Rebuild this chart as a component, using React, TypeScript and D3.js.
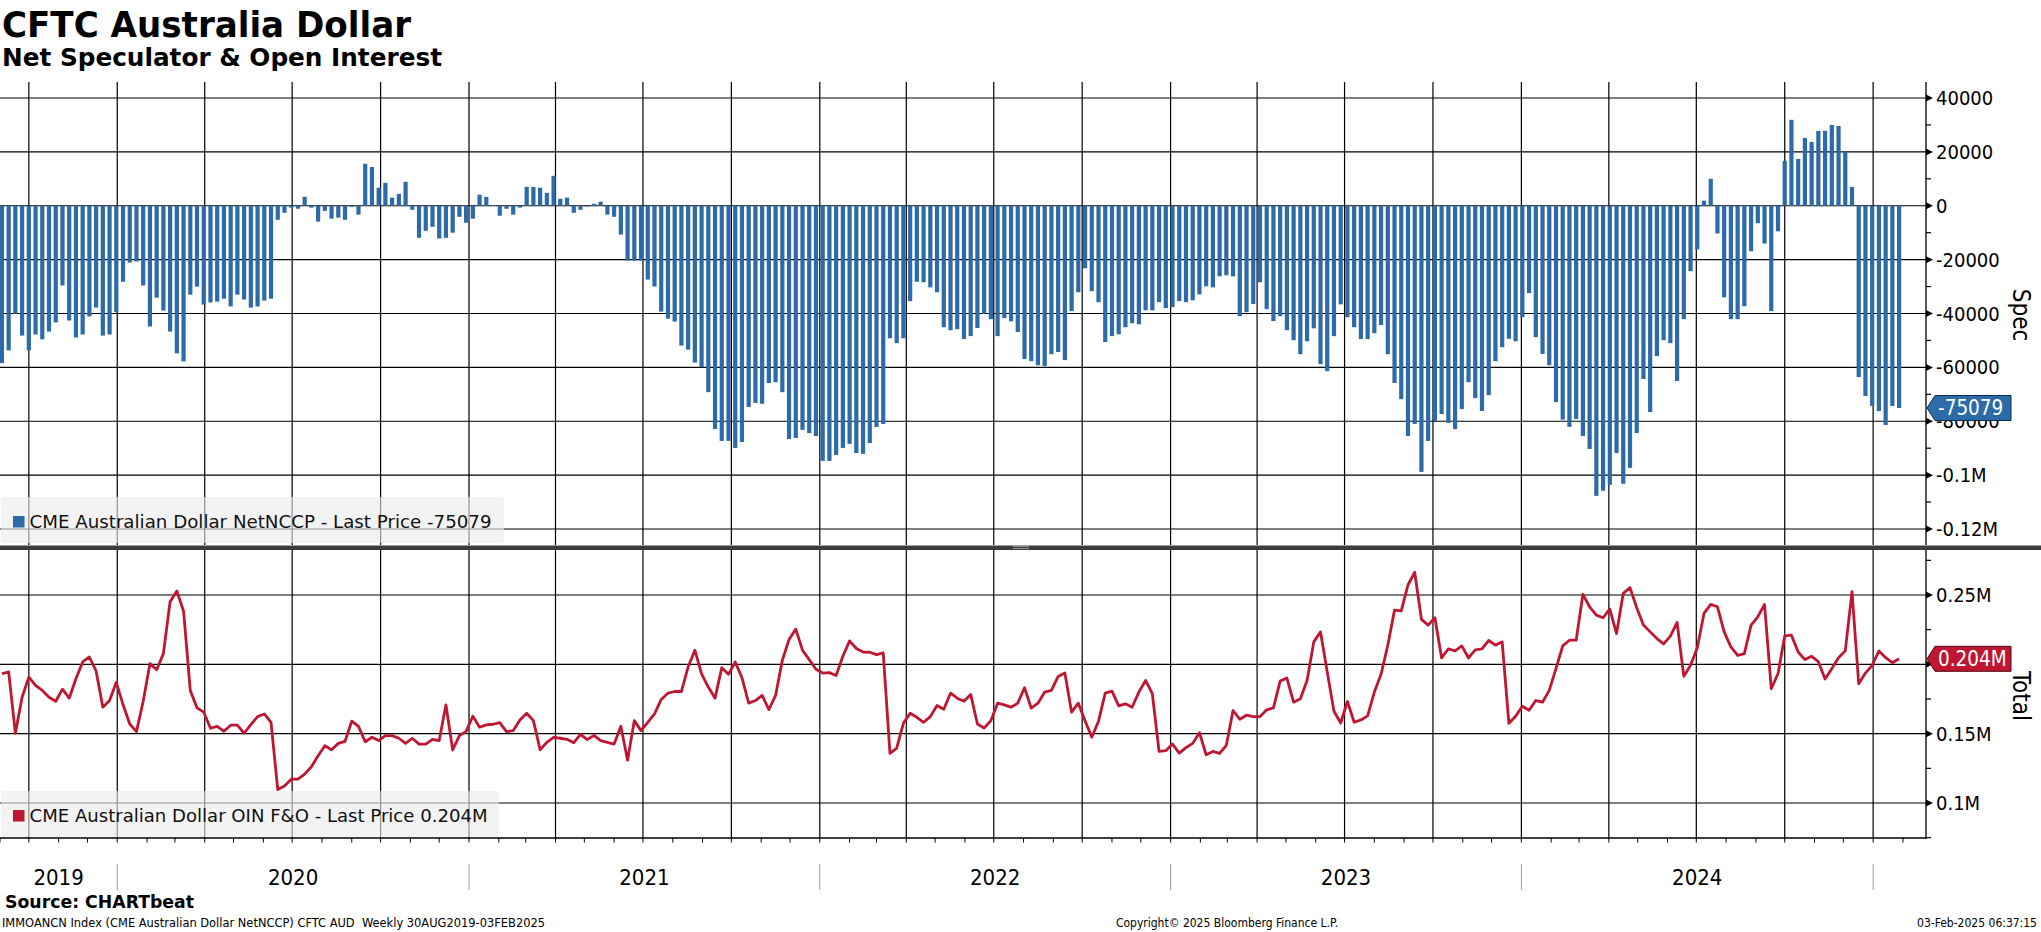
import { useEffect, useRef } from "react";
import * as d3 from "d3";

// weekly CFTC report dates (Tuesdays), 03-Sep-2019 .. 28-Jan-2025
const FIRST_DATE = new Date(2019, 8, 3);

// CME Australian Dollar NetNCCP (net speculator positions)
const netSpec = [
  -58400, -53700, -40100, -48200, -53700, -47800, -49600, -46700, -43300, -29600,
  -42600, -48900, -47800, -41100, -37800, -48200, -47800, -39500, -28200, -21100,
  -20700, -29600, -44800, -34100, -38900, -46700, -54800, -57800, -33000, -30000,
  -36700, -35900, -35600, -34500, -37400, -33000, -34800, -37800, -37400, -35200,
  -34500, -5200, -2600, -700, -1100, 3300, -700, -5900, -1900, -4800,
  -4400, -5200, -400, -3300, 15600, 14400, 6700, 8500, 3000, 4400,
  8900, -1500, -11900, -9300, -7800, -12200, -11900, -10000, -4100, -6300,
  -4800, 4100, 3300, 300, -3700, -1100, -3300, -700, 7000, 7000,
  6700, 4800, 11100, 2600, 3000, -2600, -1500, -300, 700, 1500,
  -3300, -4100, -10700, -20400, -20400, -20400, -27400, -30000, -39300, -41900,
  -43000, -51900, -53400, -58200,
  -59900, -69200, -82900, -87300, -87300, -89900, -87700, -74700, -73200, -73500,
  -65800, -65500, -69200, -86600, -86200, -83200, -84400, -85500, -94700, -94700,
  -92500, -89900, -88400, -91800, -92100, -88100, -82100, -81000, -49200, -51000,
  -49200, -35400, -28200, -28400, -30300, -32100, -45100, -46200, -45800, -49500,
  -48400, -45400, -40100, -42100, -48400, -41700, -42900, -46900, -56900, -57700,
  -59200, -59500, -55100, -54300, -57300, -39100, -32100, -23200, -31700, -35800,
  -50600, -48400, -47700, -45100, -43600, -44000, -38800, -38800, -35800, -38000,
  -37600, -35400, -35800, -35100, -32900, -29900, -30300, -26200, -25800, -26200,
  -41000, -39500, -36500, -28400, -38400, -42800, -41000, -46200, -49900, -55100,
  -50300, -45500, -58800, -61400, -48400, -36600, -41400, -45100, -49500, -49500,
  -47300, -44300, -55100, -65800, -71800, -85500, -81000, -98800, -87300, -79900,
  -77300, -80600, -82900, -75500, -65500, -71400, -76200, -70300, -57700,
  -52500, -49400, -50300, -41400, -32400, -48800, -55000, -59200, -72900, -79400,
  -82100, -79200, -85500, -90300, -107700, -105800, -103600, -91800, -103200, -97300,
  -84400, -64300, -76600, -55800, -49900, -51000, -65100, -42100, -24300, -16200,
  1900, 10000, -10300, -34000, -42100, -42100, -37300, -16900, -6500, -14000,
  -39100, -9500, 16700, 31900, 17400, 25200, 23700, 27800, 27800, 30000,
  29600, 20000, 7000, -63600, -70600, -74300, -76200, -81400, -74300, -75079,
];

// CME Australian Dollar OIN F&O (open interest)
const openInterest = [
  193200, 194500, 150300, 176300, 190800, 184800, 181200, 176300, 173400, 182100,
  175600, 189600, 201700, 205300, 195200, 169100, 173900, 187000, 171000, 157000,
  151500, 173400, 200500, 196100, 207700, 245200, 252900, 238400, 181200, 168600,
  165500, 153900, 155300, 151700, 156100, 156100, 150300, 156500, 162300, 164200,
  158200, 109700, 112300, 117200, 117200, 120800, 126100, 134100, 141300, 138400,
  143000, 144500, 159000, 155300, 144200, 147400, 145000, 148600, 148600, 146700,
  143000, 146700, 142500, 142500, 145900, 145000, 170800, 138200, 148600, 151700,
  162600, 154600, 156300, 156800, 158000, 151500, 152200, 159900, 164700, 159400,
  138400, 143700, 147400, 146700, 145900, 143500, 149500, 145700, 148800, 145000,
  143700, 142500, 155300, 130900, 159400, 152200, 158200, 164200, 174700, 179200,
  180400, 180400, 198100, 210200,
  193200, 183600, 175600, 197600, 192800, 201700, 190400, 172000, 173900, 177600,
  167400, 177600, 202900, 217900, 225400, 210200, 203400, 196400, 193700, 194000,
  192000, 205800, 216900, 211400, 208900, 208700, 207000, 208200, 135800, 139600,
  157500, 164700, 161800, 158200, 162300, 170300, 167600, 179200, 175600, 173400,
  178300, 157000, 154100, 159400, 172000, 170800, 169100, 172000, 183100, 168400,
  172000, 180000, 181200, 191300, 193700, 165500, 172000, 159400, 147400, 159000,
  179200, 180700, 170100, 171500, 169100, 180000, 188400, 178800, 137200, 137700,
  142500, 136000, 139900, 143000, 150700, 134800, 137200, 135800, 141600, 166700,
  160400, 163300, 162300, 162300, 167200, 168600, 187900, 190100, 172700, 175100,
  188400, 216200, 223400, 194500, 166200, 157700, 173200, 158200, 159900, 162800,
  180000, 192800,
  213800, 239100, 238600, 257200, 266400, 232400, 228300, 233600, 204600, 211100,
  209700, 213300, 204600, 210400, 211100, 217200, 213800, 216200, 157500, 162600,
  169800, 166900, 173900, 172700, 181200, 196900, 213300, 217400, 217400, 250500,
  241500, 235500, 233600, 239900, 222200, 251200, 255300, 240800, 228300, 223400,
  218600, 214700, 220300, 230200, 191300, 199300, 211800, 236700, 243200, 241500,
  223400, 212600, 206500, 207700, 228300, 234300, 243200, 182400, 193200, 220500,
  221000, 208900, 203400, 205800, 201900, 189400, 196900, 204800, 209700, 252400,
  186000, 193700, 199300, 209700, 204800, 201200, 204000,
];

const specTicks = [40000, 20000, 0, -20000, -40000, -60000, -80000, -100000, -120000];
const specTickLabels = ["40000", "20000", "0", "-20000", "-40000", "-60000", "-80000", "-0.1M", "-0.12M"];
const specMinor = [30000, 10000, -10000, -30000, -50000, -70000, -90000, -110000];
const oiTicks = [250000, 200000, 150000, 100000];
// the 0.2M label sits under the last-price tag in the picture
const oiTickLabels = ["0.25M", "", "0.15M", "0.1M"];
const oiMinor = [275000, 225000, 175000, 125000, 75000];
const years = [2019, 2020, 2021, 2022, 2023, 2024];

const BLUE = "#2c6aa8";
const RED = "#bf1632";
const FONT = "'DejaVu Sans Condensed', 'DejaVu Sans', sans-serif";

export default function App() {
  const svgRef = useRef<SVGSVGElement>(null);

  useEffect(() => {
    const svgEl = svgRef.current;
    if (svgEl === null) return;
    const svg = d3.select(svgEl);
    svg.selectAll("*").remove();

    const W = 2041, H = 932;
    const plotL = 0, plotR = 1926;
    const topT = 82, topB = 545;
    const botT = 550, botB = 838;

    const dates = netSpec.map((_, i) => d3.timeWeek.offset(FIRST_DATE, i));
    const last = dates.length - 1;

    const x = d3.scaleTime()
      .domain([d3.timeDay.offset(dates[0], -2), d3.timeDay.offset(dates[last], 28)])
      .range([plotL, plotR]);
    const yTop = d3.scaleLinear().domain([-120000, 40000]).range([529, 98]);
    const yBot = d3.scaleLinear().domain([100000, 250000]).range([803, 595]);

    svg.append("rect").attr("width", W).attr("height", H).attr("fill", "#fff");

    const defs = svg.append("defs");
    defs.append("clipPath").attr("id", "clipTop").append("rect")
      .attr("x", plotL).attr("y", topT).attr("width", plotR - plotL).attr("height", topB - topT);
    defs.append("clipPath").attr("id", "clipBot").append("rect")
      .attr("x", plotL).attr("y", botT).attr("width", plotR - plotL).attr("height", botB - botT);

    // titles
    svg.append("text").attr("x", 2).attr("y", 37).text("CFTC Australia Dollar")
      .attr("font-family", FONT).attr("font-weight", "bold").attr("font-size", 36)
      .attr("textLength", 409).attr("lengthAdjust", "spacingAndGlyphs");
    svg.append("text").attr("x", 2).attr("y", 66).text("Net Speculator & Open Interest")
      .attr("font-family", FONT).attr("font-weight", "bold").attr("font-size", 24)
      .attr("textLength", 440).attr("lengthAdjust", "spacingAndGlyphs");

    // grid
    const grid = svg.append("g").attr("stroke", "#000").attr("stroke-width", 1.2);
    const quarters = x.ticks(d3.timeMonth.every(3)!);
    grid.selectAll("line.vt").data(quarters).join("line")
      .attr("x1", d => x(d)).attr("x2", d => x(d)).attr("y1", topT).attr("y2", topB);
    grid.selectAll("line.vb").data(quarters).join("line")
      .attr("class", "vb")
      .attr("x1", d => x(d)).attr("x2", d => x(d)).attr("y1", botT).attr("y2", botB);
    grid.selectAll("line.ht").data(specTicks).join("line")
      .attr("class", "ht")
      .attr("x1", plotL).attr("x2", plotR).attr("y1", d => yTop(d)).attr("y2", d => yTop(d));
    grid.selectAll("line.hb").data(oiTicks).join("line")
      .attr("class", "hb")
      .attr("x1", plotL).attr("x2", plotR).attr("y1", d => yBot(d)).attr("y2", d => yBot(d));

    // bars
    const barW = 4.2;
    svg.append("g").attr("clip-path", "url(#clipTop)")
      .selectAll("rect").data(netSpec).join("rect")
      .attr("x", (_, i) => x(dates[i]) - barW / 2)
      .attr("width", barW)
      .attr("y", d => Math.min(yTop(d), yTop(0)))
      .attr("height", d => Math.abs(yTop(d) - yTop(0)))
      .attr("fill", BLUE);

    // line
    const line = d3.line<number>()
      .x((_, i) => x(dates[i]))
      .y(d => yBot(d));
    svg.append("g").attr("clip-path", "url(#clipBot)")
      .append("path").datum(openInterest)
      .attr("d", line)
      .attr("fill", "none").attr("stroke", RED).attr("stroke-width", 2.8)
      .attr("stroke-linejoin", "round");

    // separator between panels
    svg.append("rect").attr("x", 0).attr("y", 545.5).attr("width", W).attr("height", 4.5).attr("fill", "#3d3d3d");
    [546.6, 548.6].forEach(yy => {
      svg.append("line").attr("x1", 1013).attr("x2", 1029).attr("y1", yy).attr("y2", yy)
        .attr("stroke", "#b0b0b0").attr("stroke-width", 0.8);
    });

    // right axes
    const ax = svg.append("g");
    ax.append("line").attr("x1", plotR).attr("x2", plotR).attr("y1", topT).attr("y2", topB)
      .attr("stroke", "#000").attr("stroke-width", 1.3);
    ax.append("line").attr("x1", plotR).attr("x2", plotR).attr("y1", botT).attr("y2", botB + 1)
      .attr("stroke", "#000").attr("stroke-width", 1.3);
    const tri = (yy: number) => `M${plotR},${yy - 3.5}L${plotR + 7},${yy}L${plotR},${yy + 3.5}Z`;
    ax.selectAll("path.tt").data(specTicks).join("path").attr("class", "tt")
      .attr("d", d => tri(yTop(d))).attr("fill", "#000");
    ax.selectAll("path.tb").data(oiTicks).join("path").attr("class", "tb")
      .attr("d", d => tri(yBot(d))).attr("fill", "#000");
    ax.selectAll("line.mt").data(specMinor).join("line").attr("class", "mt")
      .attr("x1", plotR).attr("x2", plotR + 5).attr("y1", d => yTop(d)).attr("y2", d => yTop(d))
      .attr("stroke", "#000").attr("stroke-width", 1.2);
    ax.selectAll("line.mb").data(oiMinor).join("line").attr("class", "mb")
      .attr("x1", plotR).attr("x2", plotR + 5).attr("y1", d => yBot(d)).attr("y2", d => yBot(d))
      .attr("stroke", "#000").attr("stroke-width", 1.2);
    ax.selectAll("text.lt").data(specTicks).join("text").attr("class", "lt")
      .attr("x", 1936).attr("y", d => yTop(d) + 7).text((_, i) => specTickLabels[i])
      .attr("font-family", FONT).attr("font-size", 20).attr("fill", "#000");
    ax.selectAll("text.lb").data(oiTicks.filter((_, i) => oiTickLabels[i] !== "")).join("text").attr("class", "lb")
      .attr("x", 1936).attr("y", d => yBot(d) + 7).text(d => oiTickLabels[oiTicks.indexOf(d)])
      .attr("font-family", FONT).attr("font-size", 20).attr("fill", "#000");

    svg.append("text").attr("transform", `translate(2013,315) rotate(90)`)
      .attr("text-anchor", "middle").text("Spec")
      .attr("font-family", FONT).attr("font-size", 24);
    svg.append("text").attr("transform", `translate(2013,696) rotate(90)`)
      .attr("text-anchor", "middle").text("Total")
      .attr("font-family", FONT).attr("font-size", 24);

    // last value tags
    const tag = (cy: number, label: string, fill: string, stroke: string) => {
      const h = 12.5;
      svg.append("path")
        .attr("d", `M1927,${cy}L1935,${cy - h}L2011,${cy - h}L2011,${cy + h}L1935,${cy + h}Z`)
        .attr("fill", fill).attr("stroke", stroke).attr("stroke-width", 1);
      svg.append("text").attr("x", 1938).attr("y", cy + 7.5).text(label)
        .attr("font-family", FONT).attr("font-size", 20.5).attr("fill", "#fff");
    };
    tag(yTop(netSpec[last]), String(netSpec[last]), BLUE, "#0d2c4d");
    tag(yBot(openInterest[last]), (openInterest[last] / 1e6).toFixed(3) + "M", RED, "#4d0711");

    // x axis
    svg.append("line").attr("x1", plotL).attr("x2", plotR).attr("y1", botB).attr("y2", botB)
      .attr("stroke", "#000").attr("stroke-width", 1.3);
    svg.selectAll("line.mx").data(x.ticks(d3.timeMonth.every(1)!)).join("line").attr("class", "mx")
      .attr("x1", d => x(d)).attr("x2", d => x(d)).attr("y1", botB).attr("y2", botB + 4.5)
      .attr("stroke", "#000").attr("stroke-width", 1);
    const yearStart = (y: number) => Math.max(plotL, x(new Date(y, 0, 1)));
    svg.selectAll("line.ys").data([...years.slice(1), 2025]).join("line").attr("class", "ys")
      .attr("x1", d => x(new Date(d, 0, 1))).attr("x2", d => x(new Date(d, 0, 1)))
      .attr("y1", 864).attr("y2", 890).attr("stroke", "#9a9a9a").attr("stroke-width", 1);
    svg.selectAll("text.yl").data(years).join("text").attr("class", "yl")
      .attr("x", d => (yearStart(d) + yearStart(d + 1)) / 2).attr("y", 885)
      .attr("text-anchor", "middle").text(d => String(d))
      .attr("font-family", FONT).attr("font-size", 22);

    // legends
    const legend = (y0: number, w: number, color: string, label: string, tl: number) => {
      svg.append("rect").attr("x", 1).attr("y", y0).attr("width", w).attr("height", 46)
        .attr("rx", 4).attr("fill", "#ececec").attr("opacity", 0.62);
      svg.append("rect").attr("x", 13).attr("y", y0 + 19).attr("width", 11.5).attr("height", 11.5)
        .attr("fill", color);
      svg.append("text").attr("x", 29.5).attr("y", y0 + 31).text(label)
        .attr("font-family", FONT).attr("font-size", 18).attr("fill", "#111")
        .attr("textLength", tl).attr("lengthAdjust", "spacingAndGlyphs");
    };
    legend(497, 503, BLUE, `CME Australian Dollar NetNCCP - Last Price ${netSpec[last]}`, 462);
    legend(791, 498, RED, `CME Australian Dollar OIN F&O - Last Price ${(openInterest[last] / 1e6).toFixed(3)}M`, 458);

    // footer
    svg.append("text").attr("x", 5).attr("y", 908).text("Source: CHARTbeat")
      .attr("font-family", FONT).attr("font-weight", "bold").attr("font-size", 18)
      .attr("textLength", 189).attr("lengthAdjust", "spacingAndGlyphs");
    svg.append("text").attr("x", 2).attr("y", 927)
      .text("IMMOANCN Index (CME Australian Dollar NetNCCP) CFTC AUD  Weekly 30AUG2019-03FEB2025")
      .attr("font-family", FONT).attr("font-size", 12).attr("xml:space", "preserve")
      .attr("textLength", 543).attr("lengthAdjust", "spacingAndGlyphs");
    svg.append("text").attr("x", 1227).attr("y", 927).attr("text-anchor", "middle")
      .text("Copyright\u00a9 2025 Bloomberg Finance L.P.")
      .attr("font-family", FONT).attr("font-size", 12);
    svg.append("text").attr("x", 2037).attr("y", 927).attr("text-anchor", "end")
      .text("03-Feb-2025 06:37:15")
      .attr("font-family", FONT).attr("font-size", 12);
  }, []);

  return (
    <svg
      ref={svgRef}
      width={2041}
      height={932}
      style={{ position: "absolute", left: 0, top: 0, display: "block" }}
    />
  );
}
